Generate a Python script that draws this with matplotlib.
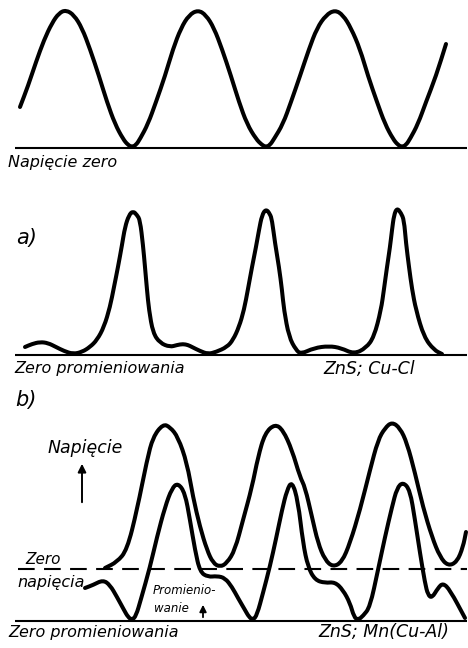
#import packages
import matplotlib
matplotlib.use("Agg")
from matplotlib import pyplot as plt
from matplotlib.path import Path
from matplotlib.patches import PathPatch

# --- top trace: supply voltage (x, height above zero line) ---
volt_x = [20, 28, 36, 44, 52, 59, 66, 74, 82, 90, 99, 107, 115, 123, 128, 132, 136, 140, 148, 156,
          165, 173, 181, 189, 198, 206, 214, 222, 231, 239, 247, 256, 262, 266, 270, 274, 283, 291,
          300, 309, 317, 326, 335, 343, 351, 360, 368, 377, 385, 393, 398, 402, 406, 410, 418, 426,
          436, 446]
volt_h = [41, 62, 86, 108, 125, 135, 138, 133, 120, 99, 72, 46, 24, 9, 3, 1, 3, 9, 24, 46,
          72, 99, 120, 133, 138, 133, 120, 99, 72, 46, 24, 9, 3, 1, 3, 9, 24, 46,
          72, 99, 120, 133, 138, 133, 120, 99, 72, 46, 24, 9, 3, 1, 3, 9, 24, 46,
          72, 104]

# --- a) ZnS;Cu-Cl light output ---
cucl_x = [25, 32, 40, 48, 56, 64, 73, 82, 90, 97, 104, 110, 114, 118, 122, 125, 129, 133, 137, 140,
          143, 145, 147, 149, 153, 160, 170, 177, 183, 188, 192, 200, 208, 216, 227, 233, 239, 244,
          248, 252, 256, 259, 262, 266, 270, 272, 275, 279, 282, 284, 289, 296, 301, 314, 329, 341,
          354, 366, 374, 381, 384, 387, 390, 392, 394, 397, 401, 404, 406, 409, 412, 416, 424, 434, 442]
cucl_h = [8, 11, 13, 12, 8, 4, 1, 3, 8, 15, 28, 48, 68, 88, 110, 128, 140, 144, 140, 135,
          110, 88, 65, 45, 22, 12, 8, 10, 11, 10, 8, 4, 1, 3, 8, 15, 28, 45,
          66, 88, 108, 125, 140, 146, 141, 135, 112, 88, 65, 45, 18, 5, 1, 7, 9, 7,
          1, 7, 18, 45, 66, 88, 108, 125, 140, 147, 142, 135, 112, 88, 66, 45, 18, 5, 1]

# --- b) ZnS;Mn(Cu-Al): voltage and light output ---
mn_volt_x = [105, 117, 127, 137, 147, 153, 163, 170, 178, 187, 193, 200, 207, 213, 220, 227, 235,
             243, 252, 258, 265, 275, 283, 292, 300, 305, 312, 318, 325, 333, 342, 350, 360, 370,
             378, 385, 392, 400, 407, 415, 423, 432, 440, 448, 457, 463, 466]
mn_volt_h = [53, 59, 71, 111, 161, 184, 197, 194, 184, 158, 124, 94, 71, 58, 54, 58, 71,
             101, 134, 164, 188, 197, 191, 171, 144, 134, 104, 78, 61, 54, 59, 78, 111, 151,
             181, 193, 199, 193, 178, 148, 114, 84, 64, 55, 59, 74, 89]

mn_light_x = [85, 93, 103, 110, 117, 124, 128, 132, 136, 141, 150, 157, 165, 172, 178, 185, 190,
              195, 200, 208, 217, 225, 232, 238, 245, 249, 253, 257, 263, 270, 276, 282, 287, 292,
              298, 303, 308, 315, 325, 335, 343, 350, 354, 358, 363, 370, 378, 385, 392, 397, 403,
              410, 415, 420, 425, 428, 432, 438, 443, 450, 465]
mn_light_h = [33, 36, 41, 36, 24, 11, 4, 1, 5, 22, 54, 84, 114, 133, 138, 128, 101,
              71, 49, 44, 45, 43, 34, 23, 11, 4, 1, 6, 28, 55, 82, 111, 131, 140,
              120, 78, 54, 41, 38, 39, 31, 18, 4, 1, 5, 14, 51, 84, 114, 133, 139,
              131, 101, 68, 38, 26, 23, 33, 38, 31, 3]
mn_zero_volt = 52

W, H = 468, 648
fig = plt.figure(figsize=(W / 100, H / 100), dpi=100)
fig.patch.set_facecolor("white")

font = dict(family="DejaVu Sans", style="italic", color="black", va="center", ha="left")


def panel(base, top):
    # axes in pixel-like units: x across the page, y = height above the zero line
    ax = fig.add_axes([0, (H - base) / H, 1, top / H])
    ax.set_xlim(0, W)
    ax.set_ylim(0, top)
    ax.axis("off")
    ax.plot([15, 467], [0, 0], color="black", lw=1.5, clip_on=False, solid_capstyle="butt")
    return ax


def trace(ax, xs, ys):
    # smooth pen stroke: quadratic segments between midpoints of the samples
    pts = list(zip(xs, ys))
    mids = [((a[0] + b[0]) / 2, (a[1] + b[1]) / 2) for a, b in zip(pts[:-1], pts[1:])]
    verts = [pts[0], mids[0]]
    codes = [Path.MOVETO, Path.LINETO]
    for p, m in zip(pts[1:-1], mids[1:]):
        verts += [p, m]
        codes += [Path.CURVE3, Path.CURVE3]
    verts.append(pts[-1])
    codes.append(Path.LINETO)
    ax.add_patch(PathPatch(Path(verts, codes), facecolor="none", edgecolor="black",
                           lw=2.9, clip_on=False, joinstyle="round", capstyle="round"))


# top: voltage
ax1 = panel(148, 148)
trace(ax1, volt_x, volt_h)
ax1.text(8, -14, "Napięcie zero", fontsize=11.5, **font)

# a)
ax2 = panel(355, 160)
trace(ax2, cucl_x, cucl_h)
ax2.text(16, 117, "a)", fontsize=15, **font)
ax2.text(14, -14, "Zero promieniowania", fontsize=11.5, **font)
ax2.text(323, -14, "ZnS; Cu-Cl", fontsize=12.5, **font)

# b)
ax3 = panel(621, 240)
ax3.plot([18, 467], [mn_zero_volt, mn_zero_volt], color="black", lw=1.5,
         dashes=(8, 4.5), clip_on=False)
trace(ax3, mn_volt_x, mn_volt_h)
trace(ax3, mn_light_x, mn_light_h)
ax3.text(15, 221, "b)", fontsize=15, **font)
ax3.text(48, 173, "Napięcie", fontsize=12.5, **font)
ax3.annotate("", xy=(82, 160), xytext=(82, 116),
             arrowprops=dict(arrowstyle="-|>", color="black", lw=1.4, mutation_scale=12))
ax3.text(25, 61, "Zero", fontsize=11, **font)
ax3.text(17, 39, "napięcia", fontsize=11.5, **font)
ax3.text(153, 31, "Promienio-", fontsize=8.5, **font)
ax3.text(154, 13, "wanie", fontsize=8.5, **font)
ax3.annotate("", xy=(203, 19), xytext=(203, 1),
             arrowprops=dict(arrowstyle="-|>", color="black", lw=1.3, mutation_scale=10))
ax3.text(8, -11, "Zero promieniowania", fontsize=11.5, **font)
ax3.text(318, -11, "ZnS; Mn(Cu-Al)", fontsize=12.5, **font)

fig.savefig("out.png", dpi=100, facecolor="white")
